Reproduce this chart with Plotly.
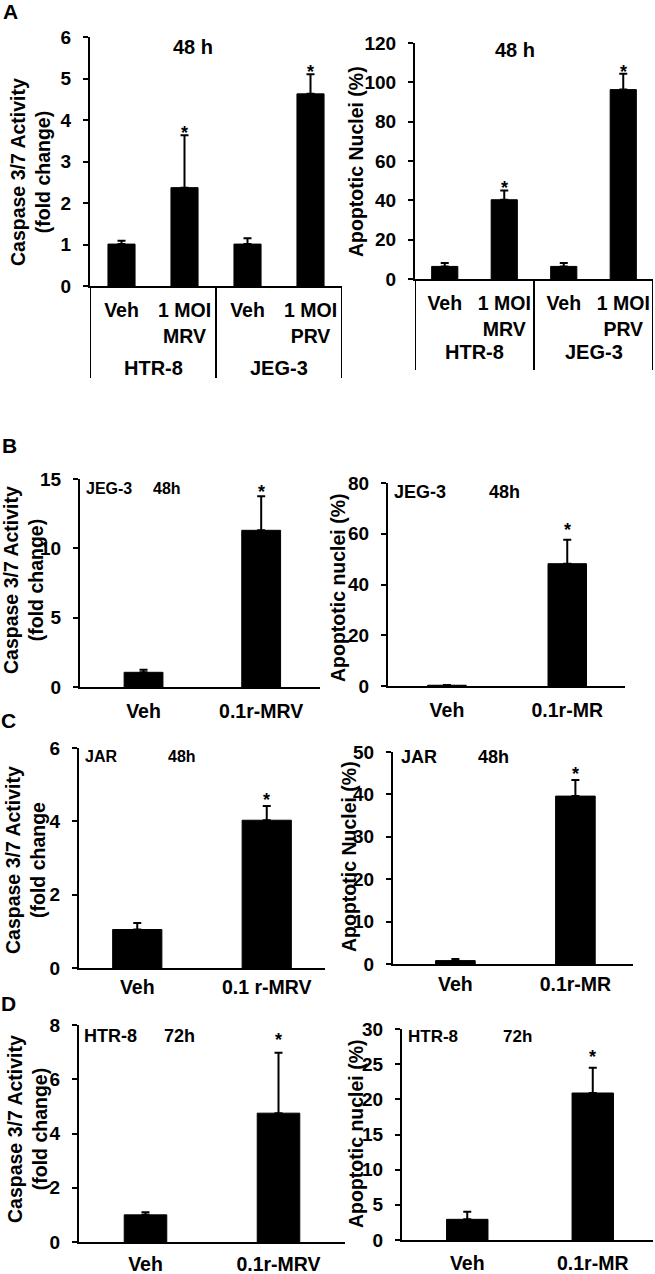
import plotly.graph_objects as go

# ---------------- data ----------------
a1_categories = ["Veh", "1 MOI<br>MRV", "Veh", "1 MOI<br>PRV"]
a1_values = [1.01, 2.37, 1.01, 4.63]
a1_errors = [0.08, 1.26, 0.14, 0.47]
a1_stars = [False, True, False, True]

a2_categories = ["Veh", "1 MOI<br>MRV", "Veh", "1 MOI<br>PRV"]
a2_values = [6.4, 40.3, 6.4, 96.3]
a2_errors = [1.7, 4.7, 1.7, 8.1]
a2_stars = [False, True, False, True]

a_groups = ["HTR-8", "JEG-3"]

b1_categories = ["Veh", "0.1r-MRV"]
b1_values = [1.06, 11.3]
b1_errors = [0.19, 2.45]
b1_stars = [False, True]

b2_categories = ["Veh", "0.1r-MR"]
b2_values = [0.3, 48.2]
b2_errors = [0.1, 9.4]
b2_stars = [False, True]

c1_categories = ["Veh", "0.1 r-MRV"]
c1_values = [1.05, 4.03]
c1_errors = [0.18, 0.39]
c1_stars = [False, True]

c2_categories = ["Veh", "0.1r-MR"]
c2_values = [0.8, 39.6]
c2_errors = [0.4, 3.8]
c2_stars = [False, True]

d1_categories = ["Veh", "0.1r-MRV"]
d1_values = [1.0, 4.75]
d1_errors = [0.1, 2.23]
d1_stars = [False, True]

d2_categories = ["Veh", "0.1r-MR"]
d2_values = [2.94, 20.9]
d2_errors = [1.09, 3.6]
d2_stars = [False, True]

caspase_title = "Caspase 3/7 Activity<br>(fold change)"
caspase_title_c = "Caspase 3/7 Activity<br>(fold change"

# ---------------- layout helpers ----------------
W, H = 655, 1274
FONT = "Arial, Liberation Sans, Helvetica, sans-serif"


def px(x):
    return x / W


def py(y):
    return 1 - y / H


panels = [
    dict(cats=a1_categories, vals=a1_values, errs=a1_errors, stars=a1_stars,
         box=(90, 342, 37, 286), ymax=6, dtick=1, xr=(-0.5, 3.5), bw=0.43,
         title=caspase_title, tpos=(30, 172), sshift=2, xstand=6,
         labels=[("48 h", 193, 47, 20, "center")]),
    dict(cats=a2_categories, vals=a2_values, errs=a2_errors, stars=a2_stars,
         box=(415, 653, 43, 279), ymax=120, dtick=20, xr=(-0.5, 3.5), bw=0.44,
         title="Apoptotic Nuclei (%)", tpos=(356, 162), sshift=2, xstand=6,
         labels=[("48 h", 515, 50, 20, "center")]),
    dict(cats=b1_categories, vals=b1_values, errs=b1_errors, stars=b1_stars,
         box=(80, 320, 479, 687), ymax=15, dtick=5, xr=(-0.54, 1.5), bw=0.33,
         title=caspase_title, tpos=(23, 580), sshift=4, xstand=6,
         labels=[("JEG-3", 84, 488, 16, "left"), ("48h", 151, 488, 16, "left")]),
    dict(cats=b2_categories, vals=b2_values, errs=b2_errors, stars=b2_stars,
         box=(388, 625, 483, 686), ymax=80, dtick=20, xr=(-0.49, 1.48), bw=0.32,
         title="Apoptotic nuclei (%)", tpos=(338, 587), sshift=10, xstand=6,
         labels=[("JEG-3", 392, 492, 18, "left"), ("48h", 487, 492, 18, "left")]),
    dict(cats=c1_categories, vals=c1_values, errs=c1_errors, stars=c1_stars,
         box=(79, 325, 748, 968), ymax=6, dtick=2, xr=(-0.45, 1.45), bw=0.38,
         title=caspase_title_c, tpos=(25, 860), sshift=6, xstand=1,
         labels=[("JAR", 83, 757, 16, "left"), ("48h", 166, 757, 16, "left")]),
    dict(cats=c2_categories, vals=c2_values, errs=c2_errors, stars=c2_stars,
         box=(393, 633, 752, 964), ymax=50, dtick=10, xr=(-0.52, 1.48), bw=0.33,
         title="Apoptotic Nuclei (%)", tpos=(349, 857), sshift=6, xstand=2,
         labels=[("JAR", 399, 757, 18, "left"), ("48h", 476, 757, 18, "left")]),
    dict(cats=d1_categories, vals=d1_values, errs=d1_errors, stars=d1_stars,
         box=(79, 345, 1025, 1242), ymax=8, dtick=2, xr=(-0.5, 1.5), bw=0.32,
         title=caspase_title, tpos=(27, 1129), sshift=13, xstand=4,
         labels=[("HTR-8", 82, 1036, 18, "left"), ("72h", 162, 1036, 18, "left")]),
    dict(cats=d2_categories, vals=d2_values, errs=d2_errors, stars=d2_stars,
         box=(402, 653, 1029, 1240), ymax=30, dtick=5, xr=(-0.52, 1.48), bw=0.33,
         title="Apoptotic nuclei (%)", tpos=(356, 1134), sshift=11, xstand=5,
         labels=[("HTR-8", 406, 1036, 17, "left"), ("72h", 501, 1036, 17, "left")]),
]

fig = go.Figure()
annotations = []
shapes = []
layout_axes = {}

for i, p in enumerate(panels):
    n = i + 1
    xa = "x" if n == 1 else f"x{n}"
    ya = "y" if n == 1 else f"y{n}"
    xs = list(range(len(p["cats"])))
    fig.add_trace(go.Bar(
        x=xs, y=p["vals"], width=p["bw"], xaxis=xa, yaxis=ya,
        marker=dict(color="black", line=dict(color="black", width=1)),
        error_y=dict(type="data", symmetric=False, array=p["errs"],
                     arrayminus=[0] * len(p["errs"]), color="black",
                     thickness=2, width=4),
        showlegend=False, hoverinfo="skip",
    ))
    x0, x1, yt, yb = p["box"]
    layout_axes["xaxis" if n == 1 else f"xaxis{n}"] = dict(
        domain=[px(x0), px(x1)], anchor=ya, range=list(p["xr"]),
        tickvals=xs, ticktext=p["cats"], ticks="", automargin=False,
        showline=True, linecolor="black", linewidth=2,
        showgrid=False, zeroline=False, fixedrange=True,
        tickfont=dict(family=FONT, size=19.5, color="black", weight="bold"),
        ticklabelstandoff=p["xstand"],
    )
    layout_axes["yaxis" if n == 1 else f"yaxis{n}"] = dict(
        domain=[py(yb), py(yt)], anchor=xa, range=[0, p["ymax"]], automargin=False,
        dtick=p["dtick"], tick0=0, ticks="outside", ticklen=5, tickwidth=2,
        tickcolor="black", showline=True, linecolor="black", linewidth=2,
        showgrid=False, zeroline=False, fixedrange=True,
        tickfont=dict(family=FONT, size=19, color="black", weight="bold"),
        ticklabelstandoff=8,
    )
    # y title
    annotations.append(dict(
        text=p["title"], xref="paper", yref="paper",
        x=px(p["tpos"][0]), y=py(p["tpos"][1]), xanchor="center", yanchor="middle",
        textangle=-90, showarrow=False,
        font=dict(family=FONT, size=19.5, color="black", weight="bold"),
    ))
    # inside labels
    for (txt, lx, ly, size, anchor) in p["labels"]:
        annotations.append(dict(
            text=txt, xref="paper", yref="paper", x=px(lx), y=py(ly),
            xanchor=anchor, yanchor="middle", showarrow=False,
            font=dict(family=FONT, size=size, color="black", weight="bold"),
        ))
    # significance stars
    for xi, v, e, s in zip(xs, p["vals"], p["errs"], p["stars"]):
        if s:
            annotations.append(dict(
                text="*", xref=xa, yref=ya, x=xi, y=v + e,
                xanchor="center", yanchor="middle", yshift=p["sshift"],
                showarrow=False,
                font=dict(family=FONT, size=18, color="black", weight="bold"),
            ))

# group separators and group labels for panel A
for n, yb_px, ye_px, yl_px, yt_px in [(1, 286, 378, 368, 37), (2, 279, 370, 352, 43)]:
    xa = "x" if n == 1 else f"x{n}"
    yd = "y domain" if n == 1 else f"y{n} domain"
    span = yb_px - yt_px
    bottom = -(ye_px - yb_px) / span
    for xv in [-0.5, 1.5, 3.5]:
        shapes.append(dict(type="line", xref=xa, yref=yd, x0=xv, x1=xv,
                           y0=0, y1=bottom, line=dict(color="black", width=2)))
    for gi, g in enumerate(a_groups):
        annotations.append(dict(
            text=g, xref=xa, yref=yd, x=gi * 2 + 0.5, y=-(yl_px - yb_px) / span,
            xanchor="center", yanchor="middle", showarrow=False,
            font=dict(family=FONT, size=20, color="black", weight="bold"),
        ))

# panel letters
for letter, lx, ly in [("A", 10, 12), ("B", 9, 445), ("C", 8, 720), ("D", 8, 1003)]:
    annotations.append(dict(
        text=letter, xref="paper", yref="paper", x=px(lx), y=py(ly),
        xanchor="center", yanchor="middle", showarrow=False,
        font=dict(family=FONT, size=21, color="black", weight="bold"),
    ))

fig.update_layout(
    template="none",
    width=W, height=H, margin=dict(l=0, r=0, t=0, b=0, pad=0), autosize=False,
    paper_bgcolor="white", plot_bgcolor="white",
    annotations=annotations, shapes=shapes, bargap=0, showlegend=False,
    **layout_axes,
)

# remove the browser's default page margin so the figure fills the window exactly
fig.write_html(
    "out.html",
    config={"displayModeBar": False, "staticPlot": True},
    post_script="document.body.style.margin='0';document.body.style.padding='0';",
)
